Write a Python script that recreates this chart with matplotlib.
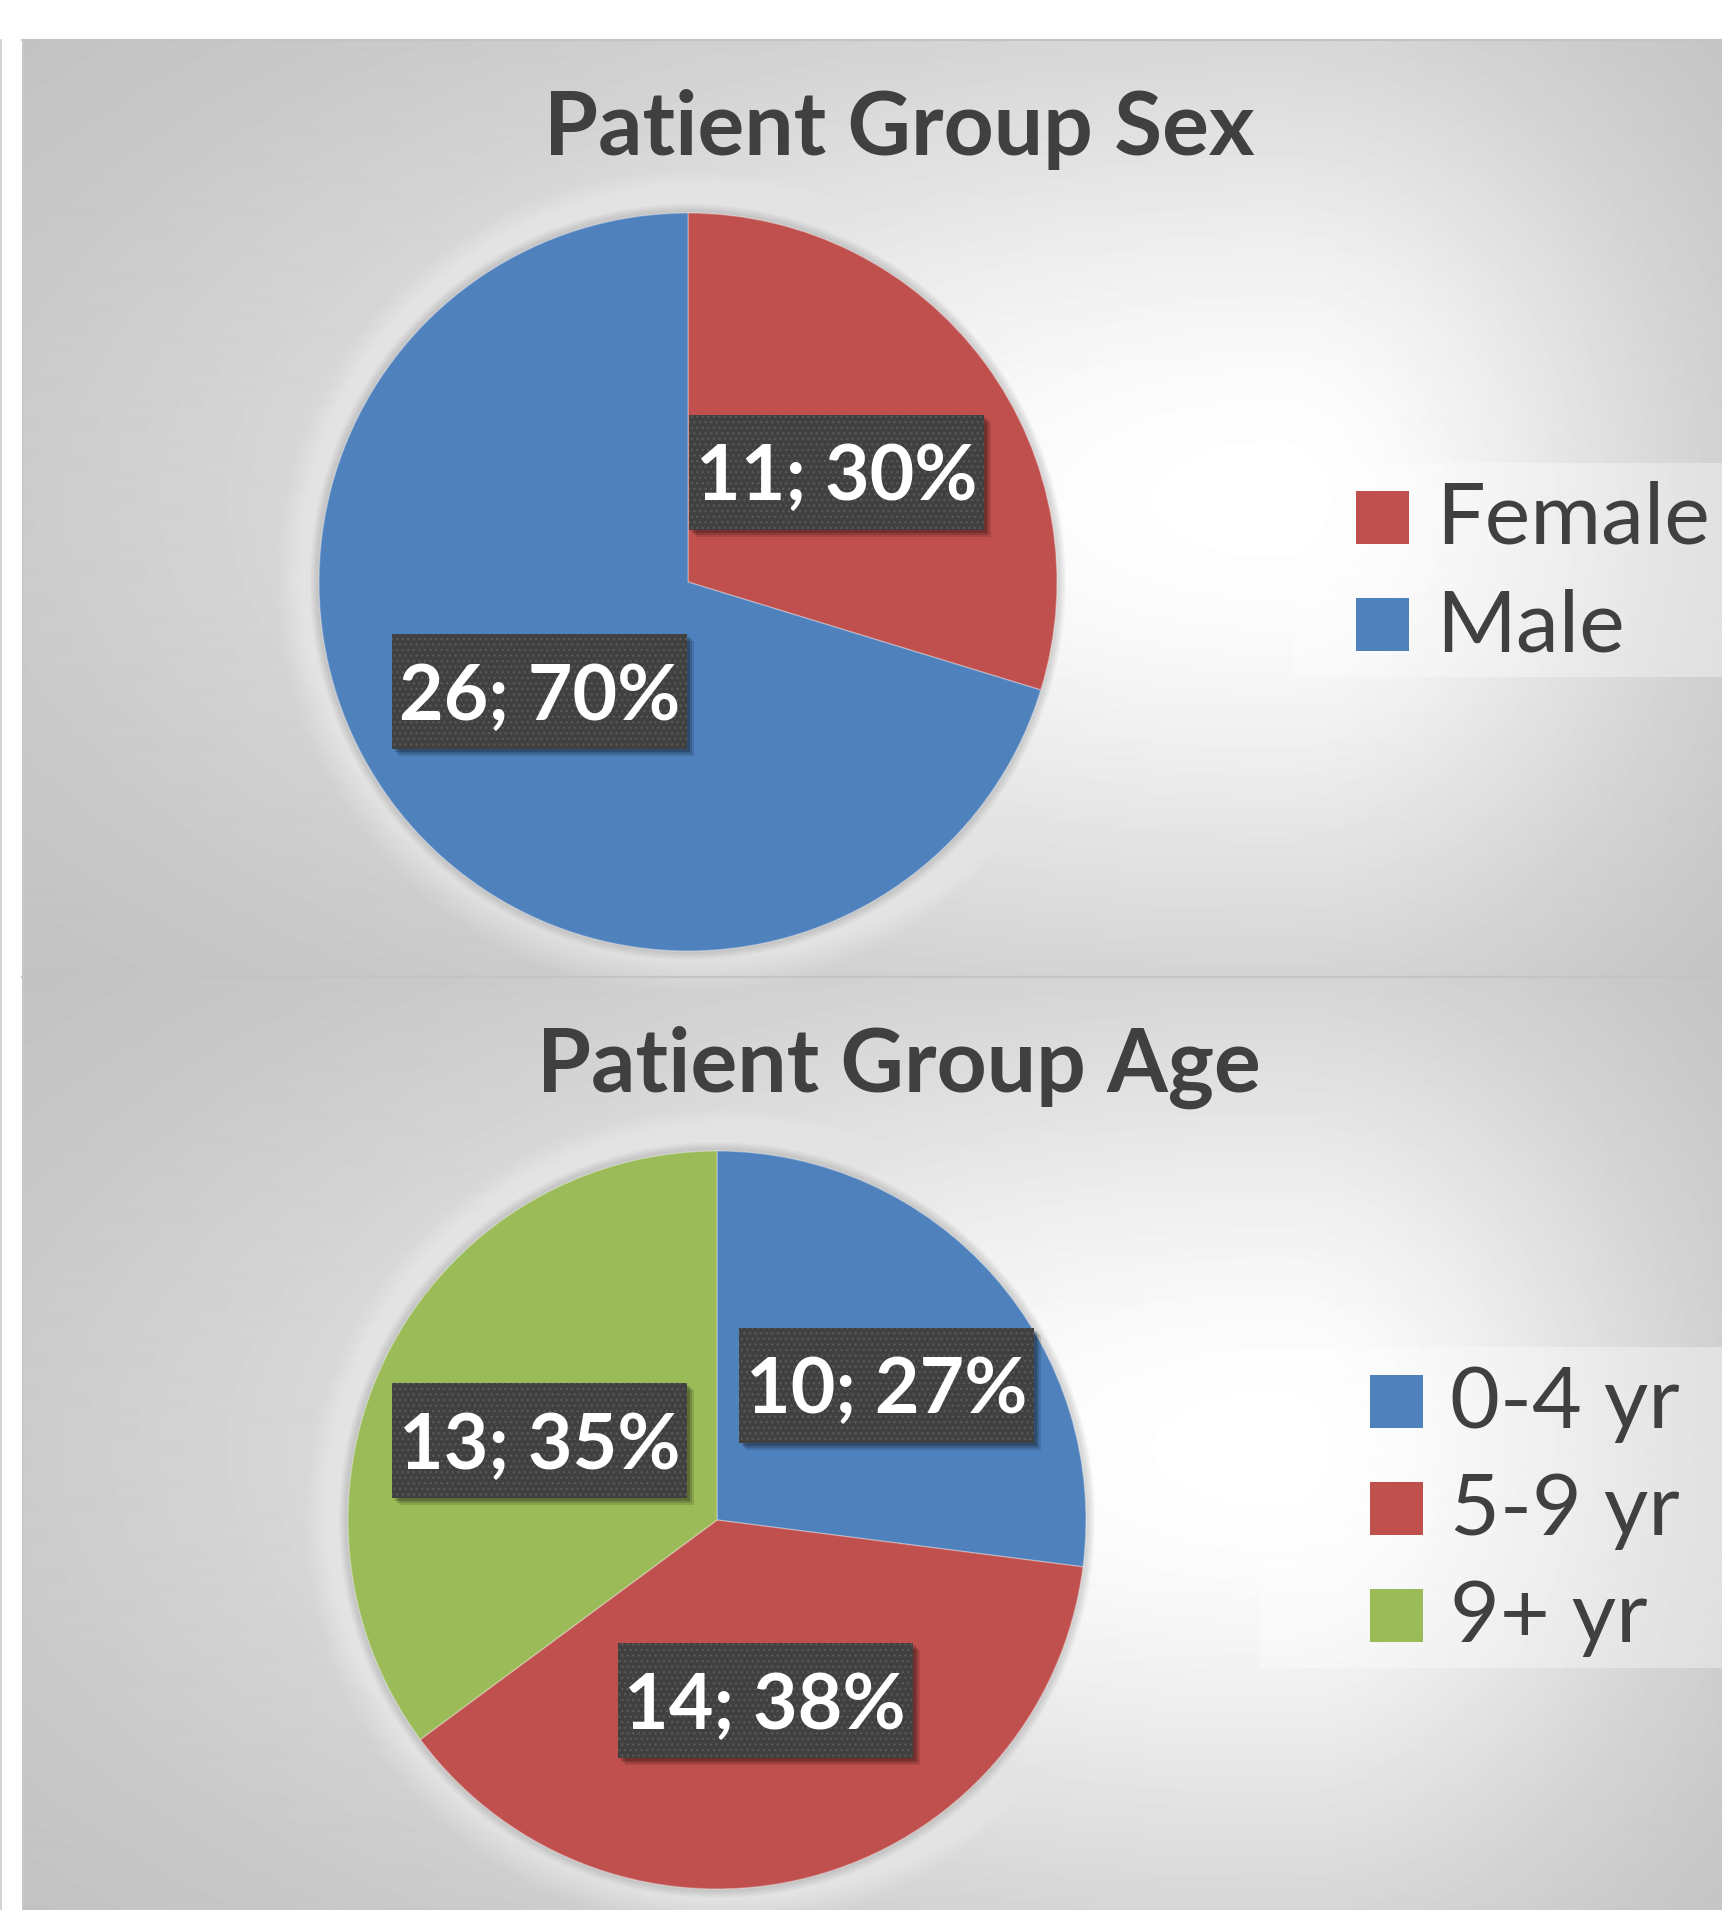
import numpy as np
import matplotlib.pyplot as plt
from matplotlib.patches import Rectangle, Circle

# chart data
sex_labels = ['Female', 'Male']
sex_counts = [11, 26]
sex_colors = ['#C0504D', '#4F81BD']

age_labels = ['0-4 yr', '5-9 yr', '9+ yr']
age_counts = [10, 14, 13]
age_colors = ['#4F81BD', '#C0504D', '#9BBB59']

titles = ['Patient Group Sex', 'Patient Group Age']

W, H = 1722, 1910
TXT = '#404040'

plt.rcParams['font.family'] = ['Lato', 'DejaVu Sans']
plt.rcParams['hatch.color'] = '#585858'
plt.rcParams['hatch.linewidth'] = 1.0

fig = plt.figure(figsize=(W / 100, H / 100), dpi=100)
ax = fig.add_axes([0, 0, 1, 1])
ax.set_axis_off()


def Y(y):
    # pixel row (from top) -> data y
    return H - y


def panel_bg(top, bottom, cy):
    xs = np.arange(22, W) + 0.5
    ys = np.arange(top, bottom) + 0.5
    X, Yg = np.meshgrid(xs, ys)
    cx = 1280
    rx = np.where(X < cx, 1300, 520)
    d2 = ((X - cx) / rx) ** 2 + ((Yg - cy) / 600) ** 2
    g = (255 - 66 * (1 - np.exp(-1.6 * d2))) / 255
    ax.imshow(g, cmap='gray', vmin=0, vmax=1, extent=(22, W, Y(bottom), Y(top)),
              interpolation='bilinear', zorder=0)


def draw_pie(cx, cy, counts, colors, dists, shifts):
    r = 369
    c = (cx, Y(cy))
    # soft glow + shadow round the pie
    for k in range(20):
        ax.add_patch(Circle(c, r + 42 - 2 * k, color='white', alpha=0.035, lw=0, zorder=1))
    for k in range(8):
        ax.add_patch(Circle(c, r + 9 - k, color='#888888', alpha=0.045, lw=0, zorder=1))
    wedges, _ = ax.pie(counts, colors=colors, startangle=90, counterclock=False,
                       center=c, radius=r, frame=True,
                       wedgeprops=dict(lw=1, edgecolor=(1, 1, 1, 0.3), zorder=3))
    total = sum(counts)
    for w, n, d, s in zip(wedges, counts, dists, shifts):
        ang = np.deg2rad((w.theta1 + w.theta2) / 2 + s)
        x = c[0] + d * r * np.cos(ang)
        y = c[1] + d * r * np.sin(ang)
        bw, bh = 295, 115
        for k, a in [(7, 0.12), (5, 0.15), (3, 0.2)]:
            ax.add_patch(Rectangle((x - bw / 2 + k, y - bh / 2 - k), bw, bh,
                                   color='black', alpha=a, lw=0, zorder=4))
        ax.add_patch(Rectangle((x - bw / 2, y - bh / 2), bw, bh, facecolor='#404040',
                               edgecolor='#585858', lw=0, hatch='...', zorder=5))
        ax.text(x, y - 28, f'{n}; {round(100 * n / total)}%', ha='center', va='baseline',
                fontsize=55.5, weight='bold', color='white', zorder=6)


def draw_legend(box, sq_x, first_y, labels, colors):
    x0, y0, x1, y1 = box
    ax.add_patch(Rectangle((x0, Y(y1)), x1 - x0, y1 - y0, color='white', alpha=0.35,
                           lw=0, zorder=2))
    for i, (lab, col) in enumerate(zip(labels, colors)):
        yc = first_y + 107 * i
        ax.add_patch(Rectangle((sq_x, Y(yc + 27)), 53, 53, color=col, lw=0, zorder=3))
        ax.text(sq_x + 80, Y(yc + 27), lab, fontsize=62, color=TXT, va='baseline', zorder=3)


panel_bg(40, 977, 500)
panel_bg(977, H, 1450)

# panel borders
ax.plot([22, W], [Y(40.5), Y(40.5)], color='#c4c4c4', lw=1.6, zorder=2)
ax.plot([22, W], [Y(977), Y(977)], color='#c4c4c4', lw=1.6, zorder=2)
ax.plot([22.5, 22.5], [Y(40), 0], color='#c8c8c8', lw=1.2, zorder=2)
ax.plot([0.6, 0.6], [Y(40), 0], color='#cccccc', lw=1.2, zorder=2)

ax.text(899, Y(155), titles[0], ha='center', va='baseline', fontsize=63,
        weight='bold', color=TXT, zorder=3)
ax.text(899, Y(1092), titles[1], ha='center', va='baseline', fontsize=63,
        weight='bold', color=TXT, zorder=3)

draw_pie(688, 582, sex_counts, sex_colors, [0.5, 0.5], [0, 0])
draw_pie(717, 1520, age_counts, age_colors, [0.588, 0.507, 0.527], [-2.9, 0.3, 2.7])

draw_legend((1293, 463, W, 677), 1356, 517, sex_labels, sex_colors)
draw_legend((1260, 1347, W, 1668), 1370, 1401, age_labels, age_colors)

ax.set_xlim(0, W)
ax.set_ylim(0, H)
ax.set_aspect('auto')

fig.savefig('out.png', dpi=100)
